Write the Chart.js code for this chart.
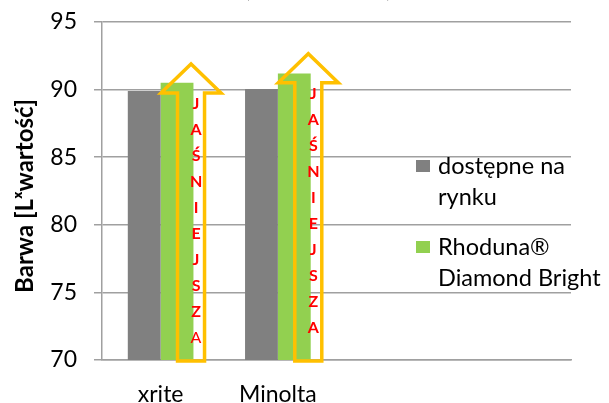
<!DOCTYPE html>
<html>
<head>
<meta charset="utf-8">
<script src="https://cdn.jsdelivr.net/npm/chart.js@4"></script>
<style>
html,body{margin:0;padding:0;background:#fff;}
canvas{display:block;}
</style>
</head>
<body>
<canvas id="c" width="609" height="403"></canvas>
<script>
const categories = ['xrite', 'Minolta', '', ''];
const marketValues = [89.9, 90.05, null, null];
const rhodunaValues = [90.5, 91.2, null, null];
const yTicks = [70, 75, 80, 85, 90, 95];
const seriesLabels = [['dostępne na', 'rynku'], ['Rhoduna®', 'Diamond Bright']];
const arrowTips = [91.9, 92.65];
const arrowWord = ['J', 'A', 'Ś', 'N', 'I', 'E', 'J', 'S', 'Z', 'A'];
const yTitle = 'Barwa [Lˣwartość]';
const chartTitle = '(Lˣ wartość)';

const FONT = 'Lato, "Open Sans", sans-serif';
const GREY = '#808080';
const GREEN = '#92D050';
const YELLOW = '#FFC000';
const GRID = '#a0a0a0';

const decor = {
  id: 'decor',
  afterDatasetsDraw(chart) {
    const ctx = chart.ctx;
    const y = chart.scales.y;
    const meta = chart.getDatasetMeta(1);
    ctx.save();
    arrowTips.forEach((tip, i) => {
      const bar = meta.data[i];
      const cx = bar.x + 14;
      const tipY = y.getPixelForValue(tip);
      const baseY = tipY + 29;
      const bottom = y.getPixelForValue(70) + 1;
      const sw = 13.5, hw = 30;
      ctx.beginPath();
      ctx.moveTo(cx - sw, bottom);
      ctx.lineTo(cx - sw, baseY);
      ctx.lineTo(cx - hw, baseY);
      ctx.lineTo(cx, tipY);
      ctx.lineTo(cx + hw, baseY);
      ctx.lineTo(cx + sw, baseY);
      ctx.lineTo(cx + sw, bottom);
      ctx.closePath();
      ctx.lineWidth = 3.5;
      ctx.strokeStyle = YELLOW;
      ctx.lineJoin = 'miter';
      ctx.stroke();
      ctx.fillStyle = '#ff0000';
      ctx.textAlign = 'center';
      ctx.textBaseline = 'middle';
      arrowWord.forEach((ch, k) => {
        const last = (i === 0 && k === arrowWord.length - 1);
        ctx.font = (last ? 'normal ' : 'bold ') + '16px ' + FONT;
        ctx.fillText(ch, cx + 5, baseY + 11 + k * 26);
      });
    });
    ctx.restore();
  },
  afterDraw(chart) {
    const ctx = chart.ctx;
    ctx.save();
    ctx.fillStyle = '#000';
    ctx.font = 'bold 24px ' + FONT;
    ctx.textAlign = 'center';
    ctx.textBaseline = 'middle';
    ctx.translate(25, 196);
    ctx.rotate(-Math.PI / 2);
    ctx.fillText(yTitle, 0, 0);
    ctx.restore();
    ctx.save();
    ctx.fillStyle = '#000';
    ctx.font = 'bold 29px ' + FONT;
    ctx.textAlign = 'center';
    ctx.textBaseline = 'alphabetic';
    ctx.fillText(chartTitle, 318, -4);
    ctx.font = '23.5px ' + FONT;
    ctx.textAlign = 'left';
    ctx.textBaseline = 'middle';
    const colors = [GREY, GREEN];
    const starts = [166, 247];
    seriesLabels.forEach((lines, i) => {
      ctx.fillStyle = colors[i];
      ctx.fillRect(416, starts[i] - 6, 14, 12);
      ctx.fillStyle = '#000';
      lines.forEach((t, k) => ctx.fillText(t, 438, starts[i] + k * 31));
    });
    ctx.restore();
  }
};

new Chart(document.getElementById('c'), {
  type: 'bar',
  data: {
    labels: categories,
    datasets: [
      { label: seriesLabels[0].join(' '), data: marketValues, backgroundColor: GREY, categoryPercentage: 0.56, barPercentage: 1.0 },
      { label: seriesLabels[1].join(' '), data: rhodunaValues, backgroundColor: GREEN, categoryPercentage: 0.56, barPercentage: 1.0 }
    ]
  },
  options: {
    responsive: false,
    animation: false,
    devicePixelRatio: 1,
    layout: { padding: { top: 22, right: 38, left: 0, bottom: 0 } },
    plugins: {
      legend: { display: false },
      tooltip: { enabled: false },
      title: { display: false }
    },
    scales: {
      x: {
        grid: { display: false },
        border: { display: true, color: GRID, width: 1.5 },
        ticks: { color: '#000', font: { family: FONT, size: 23 }, padding: 13, maxRotation: 0 },
        afterFit(s) { s.height = 43; s.paddingLeft = 0; s.paddingRight = 0; }
      },
      y: {
        min: 70, max: 95,
        afterBuildTicks(s) { s.ticks = yTicks.map(v => ({ value: v })); },
        ticks: { color: '#000', font: { family: FONT, size: 23 }, padding: 17 },
        grid: { color: GRID, lineWidth: 1.5, tickLength: 8 },
        border: { display: true, color: GRID, width: 1.5 },
        afterFit(s) { s.width = 102; s.paddingTop = 0; s.paddingBottom = 0; }
      }
    }
  },
  plugins: [decor]
});
</script>
</body>
</html>
